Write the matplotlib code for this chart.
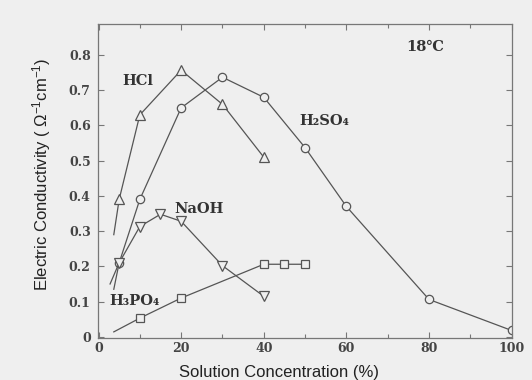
import matplotlib
matplotlib.use("Agg")
import matplotlib.pyplot as plt
from matplotlib.ticker import MultipleLocator

# ---- data ----
hcl_x = [3.7, 5, 10, 20, 30, 40]
hcl_y = [0.29, 0.39, 0.63, 0.757, 0.66, 0.51]

h2so4_x = [3.7, 5, 10, 20, 30, 40, 50, 60, 80, 100]
h2so4_y = [0.135, 0.21, 0.39, 0.65, 0.737, 0.68, 0.537, 0.37, 0.106, 0.018]

naoh_x = [2.8, 5, 10, 15, 20, 30, 40]
naoh_y = [0.15, 0.21, 0.313, 0.348, 0.328, 0.202, 0.115]

h3po4_x = [3.7, 10, 20, 40, 45, 50]
h3po4_y = [0.014, 0.053, 0.11, 0.206, 0.206, 0.206]

x_ticks = [0, 20, 40, 60, 80, 100]
y_ticks = [0, 0.1, 0.2, 0.3, 0.4, 0.5, 0.6, 0.7, 0.8]
y_tick_labels = ["0", "0.1", "0.2", "0.3", "0.4", "0.5", "0.6", "0.7", "0.8"]

BG = "#efefef"
LINE = "#555555"
TXT = "#333333"
SERIF = ["DejaVu Serif", "DejaVu Sans", "Noto Sans CJK SC"]

plt.rcParams["mathtext.fontset"] = "custom"
plt.rcParams["mathtext.rm"] = "Liberation Sans"
plt.rcParams["mathtext.it"] = "Liberation Sans"

fig = plt.figure(figsize=(5.32, 3.80), dpi=100, facecolor=BG)
ax = fig.add_axes([0.1836, 0.1118, 0.9618 - 0.1836, 0.9358 - 0.1118])
ax.set_facecolor(BG)

common = dict(color=LINE, lw=0.9, markerfacecolor=BG, markeredgecolor=LINE,
              markeredgewidth=0.9)
ax.plot(hcl_x, hcl_y, marker="^", ms=7, markevery=list(range(1, len(hcl_x))), **common)
ax.plot(h2so4_x, h2so4_y, marker="o", ms=6, markevery=list(range(1, len(h2so4_x))), **common)
ax.plot(naoh_x, naoh_y, marker="v", ms=7, markevery=list(range(1, len(naoh_x))), **common)
ax.plot(h3po4_x, h3po4_y, marker="s", ms=5.5, markevery=list(range(1, len(h3po4_x))), **common)

ax.set_xlim(-0.2, 100)
ax.set_ylim(-0.002, 0.887)
ax.set_xticks(x_ticks)
ax.xaxis.set_minor_locator(MultipleLocator(10))
ax.set_yticks(y_ticks)
ax.set_yticklabels(y_tick_labels)

for s in ax.spines.values():
    s.set_color("#777777")
    s.set_linewidth(0.9)

ax.tick_params(axis="both", which="both", direction="in", top=True, right=True,
               color="#777777", width=0.8)
ax.tick_params(axis="both", which="major", length=4)
ax.tick_params(axis="both", which="minor", length=3)
ax.tick_params(axis="x", pad=3)
ax.tick_params(axis="y", pad=5)
for lab in ax.get_xticklabels() + ax.get_yticklabels():
    lab.set_family(SERIF)
    lab.set_fontweight("bold")
    lab.set_fontsize(9)
    lab.set_color("#444444")

ann = dict(family=SERIF, fontweight="bold", fontsize=10.5, color=TXT,
           va="center", ha="left")
ax.text(5.7, 0.726, "HCl", **ann)
ax.text(48.6, 0.613, "H\u2082SO\u2084", **ann)
ax.text(74.6, 0.822, "18\u2103", **ann)
ax.text(18.4, 0.364, "NaOH", **ann)
ax.text(2.6, 0.103, "H\u2083PO\u2084", **ann)

fig.text(279.4 / 532, 1 - 373 / 380, "Solution Concentration (%)",
         family="Liberation Sans", fontsize=12, color="#222222",
         ha="center", va="center")
fig.text(42 / 532, 1 - 174.5 / 380, r"Electric Conductivity ( $\Omega^{-1}$cm$^{-1}$)",
         family="Liberation Sans", fontsize=12, color="#222222",
         ha="center", va="center", rotation=90)

fig.savefig("out.png", dpi=100, facecolor=BG)
